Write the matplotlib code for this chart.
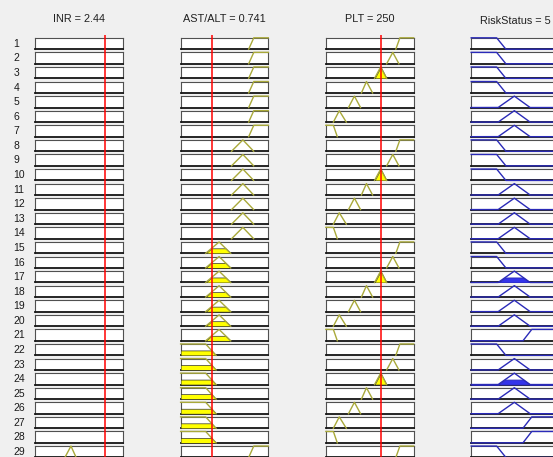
import numpy as np
import matplotlib
matplotlib.use('Agg')
import matplotlib.pyplot as plt

plt.rcParams['font.family'] = ['Liberation Sans', 'DejaVu Sans']

W, H, DPI = 553, 457, 100

# ---- fuzzy system data ----
input_names = ['INR', 'AST/ALT', 'PLT']
input_values = [2.44, 0.741, 250]
input_labels = ['2.44', '0.741', '250']
input_ranges = [(0, 3.05), (0, 2.1), (0, 400)]
output_name = 'RiskStatus'
output_label = '5'
output_range = (0, 10)

# membership functions as [a, b, c, d] (trapezoid; triangle when b == c)
inr_mfs = [[1.03, 1.24, 1.24, 1.42]]
ast_mfs = [[0, 0, 0.60, 0.85],
           [0.60, 0.92, 0.92, 1.20],
           [1.22, 1.49, 1.49, 1.75],
           [1.63, 1.75, 2.1, 2.1]]
plt_mfs = [[0, 0, 34, 52],
           [34, 61, 61, 93],
           [103, 130, 130, 158],
           [162, 185, 185, 213],
           [222, 250, 250, 277],
           [277, 305, 305, 333],
           [319, 337, 400, 400]]
risk_mfs = [[0, 0, 2.9, 3.95],
            [3.07, 4.92, 4.92, 6.7],
            [5.9, 6.9, 10, 10]]

# rule base (1-based MF index, 0 = not used)
rule_inr = [0, 0, 0, 0, 0, 0, 0, 0, 0, 0, 0, 0, 0, 0, 0, 0, 0, 0, 0, 0,
            0, 0, 0, 0, 0, 0, 0, 0, 1]
rule_ast = [4, 4, 4, 4, 4, 4, 4, 3, 3, 3, 3, 3, 3, 3, 2, 2, 2, 2, 2, 2,
            2, 1, 1, 1, 1, 1, 1, 1, 4]
rule_plt = [7, 6, 5, 4, 3, 2, 1, 7, 6, 5, 4, 3, 2, 1, 7, 6, 5, 4, 3, 2,
            1, 7, 6, 5, 4, 3, 2, 1, 7]
rule_risk = [1, 1, 1, 1, 2, 2, 2, 1, 1, 1, 2, 2, 2, 2, 1, 1, 2, 2, 2, 2,
             3, 1, 2, 2, 2, 2, 3, 3, 1]

all_in_mfs = [inr_mfs, ast_mfs, plt_mfs]
all_rules = [rule_inr, rule_ast, rule_plt]


def mf(x, p):
    a, b, c, d = p
    x = np.asarray(x, float)
    up = (x - a) / (b - a) if b > a else np.ones_like(x)
    dn = (d - x) / (d - c) if d > c else np.ones_like(x)
    return np.clip(np.minimum(up, dn), 0, 1)


# ---- layout (pixels) ----
col_left0, col_step, box_w = 35.3, 145.3, 87.7
row_top0, row_step, box_h = 37.8, 14.58, 11.4

BG = '#f0f0f0'
IN_LINE = '#a9a93a'
OUT_LINE = '#2a2ab8'
OUT_FILL = '#3434ea'

fig = plt.figure(figsize=(W / DPI, H / DPI), dpi=DPI, facecolor=BG)


def box_axes(col, row):
    left = col_left0 + col * col_step
    top = row_top0 + row * row_step
    ax = fig.add_axes([left / W, 1 - (top + box_h) / H, box_w / W, box_h / H])
    ax.set_facecolor('white')
    ax.set_ylim(0, 1)
    ax.set_xticks([])
    ax.set_yticks([])
    for s in ['top', 'left', 'right']:
        ax.spines[s].set_color('#505050')
        ax.spines[s].set_linewidth(0.8)
    ax.spines['bottom'].set_color('#151515')
    ax.spines['bottom'].set_linewidth(1.3)
    return ax


n_rules = len(rule_risk)
for r in range(n_rules):
    top = row_top0 + r * row_step
    fig.text(13.5 / W, 1 - (top + box_h / 2 + 0.3) / H, str(r + 1),
             ha='left', va='center', fontsize=7.5, color='#1a1a1a')
    strength = 1.0
    for k in range(3):
        ax = box_axes(k, r)
        lo, hi = input_ranges[k]
        ax.set_xlim(lo, hi)
        idx = all_rules[k][r]
        if idx == 0:
            continue
        p = all_in_mfs[k][idx - 1]
        mu = float(mf(input_values[k], p))
        strength = min(strength, mu)
        a, b, c, d = p
        xs = np.linspace(a, d, 400)
        ys = mf(xs, p)
        if mu > 0:
            ax.fill_between(xs, 0, np.minimum(ys, mu), facecolor='#ffff00',
                            edgecolor='#303030', lw=0.5, zorder=3)
        ax.plot(xs, ys, color=IN_LINE, lw=1.0, clip_on=False, zorder=4)
    # output column
    ax = box_axes(3, r)
    lo, hi = output_range
    ax.set_xlim(lo, hi)
    p = risk_mfs[rule_risk[r] - 1]
    xs = np.linspace(lo, hi, 800)
    ys = mf(xs, p)
    if strength > 0:
        ax.fill_between(xs, 0, np.minimum(ys, strength), facecolor=OUT_FILL,
                        edgecolor=OUT_LINE, lw=0.6, zorder=3)
    ax.plot(xs, ys, color=OUT_LINE, lw=1.0, clip_on=False, zorder=4)

# titles
for k in range(3):
    cx = col_left0 + k * col_step + box_w / 2
    fig.text(cx / W, 1 - 18.5 / H, f'{input_names[k]} = {input_labels[k]}',
             ha='center', va='center', fontsize=7.8, color='#202020')
cx = col_left0 + 3 * col_step + box_w / 2
fig.text(cx / W, 1 - 20.5 / H, f'{output_name} = {output_label}',
         ha='center', va='center', fontsize=7.8, color='#202020')

# red input-value lines
for k in range(3):
    left = col_left0 + k * col_step
    ov = fig.add_axes([left / W, 0, box_w / W, (H - 35) / H])
    ov.set_xlim(*input_ranges[k])
    ov.axis('off')
    ov.patch.set_alpha(0)
    ov.axvline(input_values[k], color='#ff0000', lw=1.1)

fig.savefig('out.png', dpi=DPI, facecolor=BG)
